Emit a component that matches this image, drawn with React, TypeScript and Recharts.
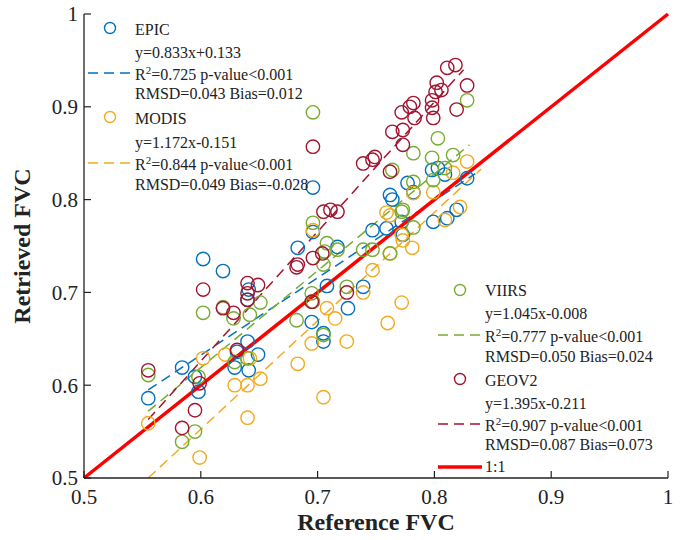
import { ScatterChart, Scatter, XAxis, YAxis, ReferenceLine } from "recharts";

const ticks = [0.5, 0.6, 0.7, 0.8, 0.9, 1];

// [reference, retrieved]
const epicPts = [
  [0.555, 0.586], [0.584, 0.619], [0.595, 0.609], [0.598, 0.593], [0.602, 0.736], [0.619, 0.723],
  [0.631, 0.636], [0.629, 0.619], [0.641, 0.616], [0.64, 0.647], [0.649, 0.633], [0.641, 0.703],
  [0.64, 0.692], [0.683, 0.748], [0.696, 0.813], [0.696, 0.765], [0.717, 0.749], [0.708, 0.707],
  [0.739, 0.706], [0.726, 0.683], [0.695, 0.668], [0.705, 0.656], [0.705, 0.647], [0.762, 0.805],
  [0.764, 0.8], [0.747, 0.767], [0.772, 0.776], [0.777, 0.818], [0.782, 0.808], [0.798, 0.832],
  [0.803, 0.834], [0.809, 0.827], [0.799, 0.776], [0.811, 0.78], [0.819, 0.789], [0.828, 0.823],
  [0.773, 0.762], [0.759, 0.769],
];
const modisPts = [
  [0.555, 0.559], [0.599, 0.522], [0.602, 0.629], [0.621, 0.633], [0.629, 0.6], [0.64, 0.6],
  [0.651, 0.607], [0.64, 0.565], [0.642, 0.629], [0.683, 0.623], [0.695, 0.645], [0.705, 0.587],
  [0.708, 0.683], [0.715, 0.672], [0.725, 0.647], [0.696, 0.767], [0.739, 0.7], [0.747, 0.724],
  [0.762, 0.783], [0.772, 0.762], [0.762, 0.742], [0.76, 0.667], [0.772, 0.689], [0.782, 0.807],
  [0.799, 0.808], [0.759, 0.786], [0.773, 0.756], [0.781, 0.748], [0.809, 0.778], [0.822, 0.792],
  [0.828, 0.841], [0.816, 0.829],
];
const viirsPts = [
  [0.555, 0.611], [0.584, 0.539], [0.595, 0.55], [0.598, 0.609], [0.629, 0.625], [0.64, 0.629],
  [0.705, 0.654], [0.602, 0.678], [0.619, 0.684], [0.628, 0.672], [0.651, 0.689], [0.642, 0.676],
  [0.682, 0.67], [0.695, 0.699], [0.706, 0.744], [0.696, 0.775], [0.708, 0.753], [0.717, 0.746],
  [0.705, 0.73], [0.725, 0.706], [0.696, 0.69], [0.739, 0.746], [0.747, 0.746], [0.762, 0.742],
  [0.764, 0.832], [0.772, 0.787], [0.803, 0.866], [0.782, 0.85], [0.798, 0.845], [0.816, 0.848],
  [0.809, 0.834], [0.799, 0.821], [0.782, 0.819], [0.773, 0.789], [0.782, 0.77], [0.828, 0.907],
  [0.696, 0.894],
];
const geov2Pts = [
  [0.555, 0.616], [0.595, 0.573], [0.584, 0.554], [0.599, 0.602], [0.631, 0.638], [0.602, 0.703],
  [0.619, 0.683], [0.628, 0.678], [0.64, 0.71], [0.649, 0.708], [0.64, 0.699], [0.64, 0.692],
  [0.682, 0.727], [0.696, 0.737], [0.704, 0.742], [0.695, 0.69], [0.739, 0.839], [0.747, 0.843],
  [0.705, 0.787], [0.711, 0.789], [0.717, 0.787], [0.683, 0.73], [0.725, 0.7], [0.696, 0.857],
  [0.811, 0.942], [0.818, 0.945], [0.828, 0.923], [0.802, 0.926], [0.806, 0.918], [0.801, 0.916],
  [0.798, 0.907], [0.819, 0.897], [0.782, 0.904], [0.779, 0.9], [0.772, 0.894], [0.783, 0.888],
  [0.798, 0.899], [0.799, 0.888], [0.764, 0.873], [0.773, 0.875], [0.773, 0.859], [0.749, 0.846],
  [0.762, 0.83],
];

// fitted lines, end points
const epicFit = [[0.555, 0.595], [0.835, 0.828]];
const modisFit = [[0.555, 0.5], [0.84, 0.833]];
const viirsFit = [[0.555, 0.572], [0.83, 0.859]];
const geov2Fit = [[0.555, 0.563], [0.825, 0.94]];
const oneToOne = [[0.5, 0.5], [1, 1]];

const toXY = (arr: number[][]) => arr.map(([x, y]) => ({ x, y }));

const BLUE = "#0072BD";
const ORANGE = "#F2AA1E";
const GREEN = "#77AC30";
const DARKRED = "#A2142F";
const RED = "#FF0000";
const INK = "#222";
const SERIF = "'Liberation Serif', 'Times New Roman', serif";

const ring = (color: string) => (p: any) =>
  <circle cx={p.cx} cy={p.cy} r={6.7} fill="none" stroke={color} strokeWidth={1.4} />;

function BottomTick(props: any) {
  const { x, y, payload } = props;
  return (
    <g>
      <line x1={x} x2={x} y1={y} y2={y - 7} stroke={INK} strokeWidth={1.2} />
      <text x={x} y={y + 26} textAnchor="middle" fontSize={21} fontFamily={SERIF} fill={INK}>
        {String(payload.value)}
      </text>
    </g>
  );
}
function LeftTick(props: any) {
  const { x, y, payload } = props;
  return (
    <g>
      <line x1={x} x2={x + 7} y1={y} y2={y} stroke={INK} strokeWidth={1.2} />
      <text x={x - 6} y={y} dy="0.35em" textAnchor="end" fontSize={21} fontFamily={SERIF} fill={INK}>
        {String(payload.value)}
      </text>
    </g>
  );
}
const TopTick = (props: any) => (
  <line x1={props.x} x2={props.x} y1={props.y} y2={props.y + 7} stroke={INK} strokeWidth={1.2} />
);
const RightTick = (props: any) => (
  <line x1={props.x} x2={props.x - 7} y1={props.y} y2={props.y} stroke={INK} strokeWidth={1.2} />
);

function Fit({ pts, color, dashed = true, width = 1.5 }: { pts: number[][]; color: string; dashed?: boolean; width?: number }) {
  return (
    <ReferenceLine
      segment={toXY(pts)}
      stroke={color}
      strokeWidth={width}
      strokeDasharray={dashed ? "10 6" : undefined}
      ifOverflow="visible"
    />
  );
}

function LegendText({ x, y, children }: { x: number; y: number; children: any }) {
  return (
    <text x={x} y={y} fontSize={16} fontFamily={SERIF} fill={INK}>
      {children}
    </text>
  );
}

function R2({ x, y, value }: { x: number; y: number; value: string }) {
  return (
    <text x={x} y={y} fontSize={16} fontFamily={SERIF} fill={INK}>
      R<tspan dy={-6} fontSize={11}>2</tspan>
      <tspan dy={6}>{`=${value} p-value<0.001`}</tspan>
    </text>
  );
}

function Legend() {
  return (
    <svg width={682} height={540} style={{ position: "absolute", left: 0, top: 0, pointerEvents: "none" }}>
      <circle cx={110} cy={28} r={5.5} fill="none" stroke={BLUE} strokeWidth={1.4} />
      <LegendText x={135} y={35}>EPIC</LegendText>
      <LegendText x={135} y={58}>y=0.833x+0.133</LegendText>
      <line x1={88} x2={132} y1={73} y2={73} stroke={BLUE} strokeWidth={1.5} strokeDasharray="10 6" />
      <R2 x={135} y={80} value="0.725" />
      <LegendText x={135} y={99}>RMSD=0.043 Bias=0.012</LegendText>

      <circle cx={110} cy={117} r={5.5} fill="none" stroke={ORANGE} strokeWidth={1.4} />
      <LegendText x={135} y={124}>MODIS</LegendText>
      <LegendText x={135} y={148}>y=1.172x-0.151</LegendText>
      <line x1={88} x2={132} y1={163} y2={163} stroke={ORANGE} strokeWidth={1.5} strokeDasharray="10 6" />
      <R2 x={135} y={170} value="0.844" />
      <LegendText x={135} y={190}>RMSD=0.049 Bias=-0.028</LegendText>

      <circle cx={460} cy={290} r={5.5} fill="none" stroke={GREEN} strokeWidth={1.4} />
      <LegendText x={485} y={296}>VIIRS</LegendText>
      <LegendText x={485} y={319}>y=1.045x-0.008</LegendText>
      <line x1={438} x2={482} y1={335} y2={335} stroke={GREEN} strokeWidth={1.5} strokeDasharray="10 6" />
      <R2 x={485} y={342} value="0.777" />
      <LegendText x={485} y={362}>RMSD=0.050 Bias=0.024</LegendText>

      <circle cx={460} cy={379} r={5.5} fill="none" stroke={DARKRED} strokeWidth={1.4} />
      <LegendText x={485} y={386}>GEOV2</LegendText>
      <LegendText x={485} y={409}>y=1.395x-0.211</LegendText>
      <line x1={438} x2={482} y1={424} y2={424} stroke={DARKRED} strokeWidth={1.5} strokeDasharray="10 6" />
      <R2 x={485} y={431} value="0.907" />
      <LegendText x={485} y={450}>RMSD=0.087 Bias=0.073</LegendText>

      <line x1={438} x2={482} y1={467} y2={467} stroke={RED} strokeWidth={3.5} />
      <LegendText x={485} y={472}>1:1</LegendText>
    </svg>
  );
}

export default function App() {
  const axisLine = { stroke: INK, strokeWidth: 1.3 };
  return (
    <div style={{ position: "absolute", left: 0, top: 0, width: 682, height: 540, background: "#fff" }}>
      <ScatterChart width={682} height={540} margin={{ top: 14, right: 14, bottom: 0, left: 0 }}>
        <XAxis
          type="number"
          dataKey="x"
          domain={[0.5, 1]}
          ticks={ticks}
          allowDataOverflow
          height={62}
          tickSize={0}
          tickMargin={0}
          tickLine={false}
          axisLine={axisLine}
          tick={<BottomTick />}
          label={{
            position: "insideBottom",
            content: (p: any) => (
              <text x={p.viewBox.x + p.viewBox.width / 2} y={p.viewBox.y + 52} textAnchor="middle"
                fontSize={24} fontWeight="bold" fontFamily={SERIF} fill={INK}>
                Reference FVC
              </text>
            ),
          }}
        />
        <XAxis xAxisId="top" orientation="top" type="number" domain={[0.5, 1]} ticks={ticks} allowDataOverflow
          height={0} tickSize={0} tickMargin={0} tickLine={false} axisLine={axisLine} tick={<TopTick />} />
        <YAxis
          type="number"
          dataKey="y"
          domain={[0.5, 1]}
          ticks={ticks}
          allowDataOverflow
          width={84}
          tickSize={0}
          tickMargin={0}
          tickLine={false}
          axisLine={axisLine}
          tick={<LeftTick />}
          label={{
            position: "insideLeft",
            content: (p: any) => {
              const cx = p.viewBox.x + 30;
              const cy = p.viewBox.y + p.viewBox.height / 2;
              return (
                <text x={cx} y={cy} transform={`rotate(-90 ${cx} ${cy})`} textAnchor="middle"
                  fontSize={24} fontWeight="bold" fontFamily={SERIF} fill={INK}>
                  Retrieved FVC
                </text>
              );
            },
          }}
        />
        <YAxis yAxisId="right" orientation="right" type="number" domain={[0.5, 1]} ticks={ticks} allowDataOverflow
          width={0} tickSize={0} tickMargin={0} tickLine={false} axisLine={axisLine} tick={<RightTick />} />

        <Scatter data={toXY(epicPts)} shape={ring(BLUE)} isAnimationActive={false} />
        <Scatter data={toXY(modisPts)} shape={ring(ORANGE)} isAnimationActive={false} />
        <Scatter data={toXY(viirsPts)} shape={ring(GREEN)} isAnimationActive={false} />
        <Scatter data={toXY(geov2Pts)} shape={ring(DARKRED)} isAnimationActive={false} />

        <Fit pts={epicFit} color={BLUE} />
        <Fit pts={modisFit} color={ORANGE} />
        <Fit pts={viirsFit} color={GREEN} />
        <Fit pts={geov2Fit} color={DARKRED} />
        <Fit pts={oneToOne} color={RED} dashed={false} width={3.5} />
      </ScatterChart>
      <Legend />
    </div>
  );
}
